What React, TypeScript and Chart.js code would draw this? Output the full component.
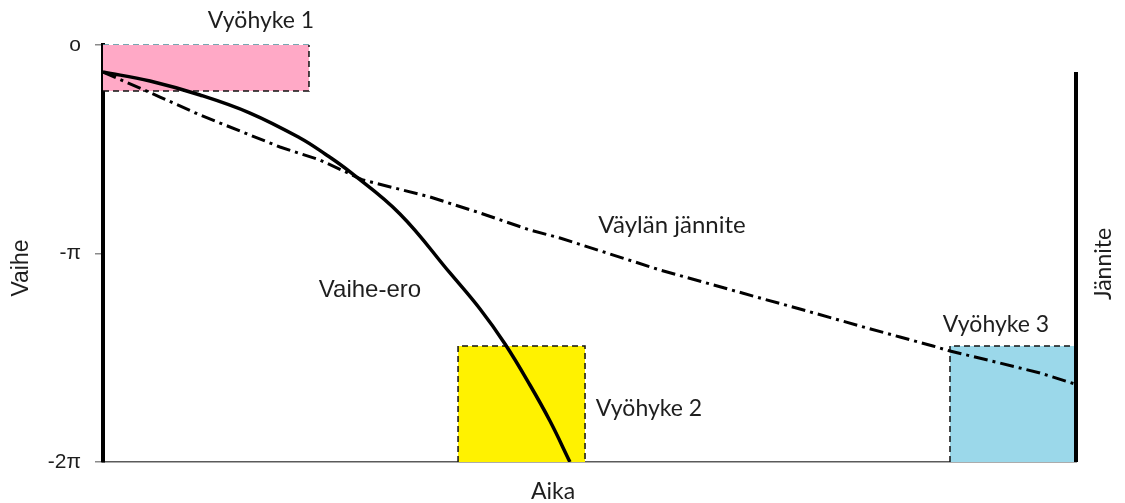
import { useEffect, useRef } from "react";
import { Chart, registerables } from "chart.js";

Chart.register(...registerables);

const TWO_PI = 2 * Math.PI;

// Phase axis: 0 at the top, -2π at the bottom
const phaseTickValues = [0, -Math.PI, -TWO_PI];
const phaseTickLabels = ["o", "-π", "-2π"];

// Time axis in arbitrary units
const timeMin = 0;
const timeMax = 100;

// Vaihe-ero: phase difference between the two systems
const phaseDiffTime = [0, 4.83, 9.97, 15.11, 20.25, 22.82, 25.39, 30.52, 35.66, 38.75, 41.32, 43.88, 45.94, 47.99];
const phaseDiffValue = [-0.407, -0.542, -0.753, -1.025, -1.401, -1.642, -1.913, -2.546, -3.435, -3.978, -4.505, -5.123, -5.666, -6.283];

// Väylän jännite: bus voltage
const busTime = [0, 5.86, 9.97, 18.19, 22.3, 26.72, 33.61, 38.75, 43.89, 46.97, 57.25, 67.52, 71.63, 78.52, 81.91, 85.3, 87.05, 92.19, 96.3, 99.9];
const busValue = [-0.407, -0.784, -1.055, -1.537, -1.733, -2.034, -2.29, -2.531, -2.788, -2.908, -3.39, -3.812, -3.978, -4.264, -4.4, -4.535, -4.611, -4.792, -4.942, -5.108];

// Jännite axis line on the right
const voltageAxisTime = [100, 100];
const voltageAxisValue = [-0.407, -TWO_PI];

// Zones: time span and phase span
const zone1Time = [0, 21.17];
const zone1Phase = [0, -0.693];
const zone2Time = [36.49, 49.54];
const zone2Phase = [-4.535, -TWO_PI];
const zone3Time = [87.05, 100];
const zone3Phase = [-4.535, -TWO_PI];

const TEXT_COLOR = "#1e1e1e";
const CAL = "Lato, 'Open Sans', sans-serif";
const ARI = "'Liberation Sans', Arial, sans-serif";

type Note = { text: string; x: number; y: number; font: string; rot?: number };
const notes: Note[] = [
  { text: "Vyöhyke 1", x: 261, y: 21, font: `23px ${CAL}` },
  { text: "Väylän jännite", x: 672, y: 225, font: `24px ${CAL}` },
  { text: "Vaihe-ero", x: 370, y: 290, font: `24px ${ARI}` },
  { text: "Vyöhyke 2", x: 649, y: 409, font: `23px ${CAL}` },
  { text: "Vyöhyke 3", x: 996, y: 325, font: `23px ${CAL}` },
  { text: "Aika", x: 553, y: 492, font: `23px ${CAL}` },
  { text: "Vaihe", x: 22, y: 268, font: `23px ${ARI}`, rot: -Math.PI / 2 },
  { text: "Jännite", x: 1104, y: 264, font: `23px ${CAL}`, rot: -Math.PI / 2 },
];

const notesPlugin = {
  id: "notes",
  afterDraw(chart: any) {
    const ctx = chart.ctx as CanvasRenderingContext2D;
    for (const n of notes) {
      ctx.save();
      ctx.translate(n.x, n.y);
      if (n.rot) ctx.rotate(n.rot);
      ctx.font = n.font;
      ctx.fillStyle = TEXT_COLOR;
      ctx.textAlign = "center";
      ctx.textBaseline = "middle";
      ctx.fillText(n.text, 0, 0);
      ctx.restore();
    }
  },
};

const pts = (xs: number[], ys: number[]) => xs.map((x, i) => ({ x, y: ys[i] }));

export default function App() {
  const canvasRef = useRef<HTMLCanvasElement | null>(null);

  useEffect(() => {
    const canvas = canvasRef.current;
    if (!canvas) return;

    const zoneBorder = { borderColor: "#111", borderWidth: 1.5, borderDash: [6, 4], pointRadius: 0, clip: 4, order: 5 };

    const chart = new Chart(canvas, {
      type: "line",
      data: {
        datasets: [
          {
            label: "Vaihe-ero",
            data: pts(phaseDiffTime, phaseDiffValue),
            borderColor: "#000",
            borderWidth: 3.5,
            pointRadius: 0,
            tension: 0.4,
            fill: false,
            order: 1,
          },
          {
            label: "Väylän jännite",
            data: pts(busTime, busValue),
            borderColor: "#000",
            borderWidth: 3,
            borderDash: [14, 5, 3, 5],
            pointRadius: 0,
            fill: false,
            order: 2,
          },
          {
            label: "Jännite",
            data: pts(voltageAxisTime, voltageAxisValue),
            borderColor: "#000",
            borderWidth: 4,
            pointRadius: 0,
            fill: false,
            clip: 4,
            order: 0,
          },
          {
            label: "Vyöhyke 1",
            data: [
              { x: zone1Time[0], y: zone1Phase[1] },
              { x: zone1Time[1], y: zone1Phase[1] },
              { x: zone1Time[1], y: zone1Phase[0] },
            ],
            backgroundColor: "#ffa9c6",
            fill: { value: zone1Phase[0] },
            ...zoneBorder,
          },
          {
            label: "Vyöhyke 1 yläreuna",
            data: [
              { x: zone1Time[0], y: zone1Phase[0] },
              { x: zone1Time[1], y: zone1Phase[0] },
            ],
            fill: false,
            ...zoneBorder,
            borderColor: "#4a8c99",
          },
          {
            label: "Vyöhyke 2",
            data: [
              { x: zone2Time[0], y: zone2Phase[1] },
              { x: zone2Time[0], y: zone2Phase[0] },
              { x: zone2Time[1], y: zone2Phase[0] },
              { x: zone2Time[1], y: zone2Phase[1] },
            ],
            backgroundColor: "#fff200",
            fill: { value: zone2Phase[1] },
            ...zoneBorder,
          },
          {
            label: "Vyöhyke 3",
            data: [
              { x: zone3Time[0], y: zone3Phase[1] },
              { x: zone3Time[0], y: zone3Phase[0] },
              { x: zone3Time[1], y: zone3Phase[0] },
            ],
            backgroundColor: "#9bd8ea",
            fill: { value: zone3Phase[1] },
            ...zoneBorder,
          },
        ],
      },
      options: {
        animation: false,
        responsive: true,
        maintainAspectRatio: false,
        events: [],
        layout: { padding: { left: 0, top: 45, right: 49, bottom: 0 } },
        plugins: { legend: { display: false }, tooltip: { enabled: false } },
        scales: {
          x: {
            type: "linear",
            min: timeMin,
            max: timeMax,
            z: 1,
            ticks: { display: false },
            grid: { drawOnChartArea: false, drawTicks: false },
            border: { color: "#5a5a5a", width: 1.5 },
            afterFit(scale: any) {
              scale.height = 41;
            },
          },
          y: {
            type: "linear",
            min: -TWO_PI,
            max: 0,
            z: 1,
            afterBuildTicks(scale: any) {
              scale.ticks = phaseTickValues.map((v) => ({ value: v }));
            },
            ticks: {
              autoSkip: false,
              padding: 14,
              color: TEXT_COLOR,
              font: { family: ARI, size: 21 },
              callback(value: any) {
                const i = phaseTickValues.findIndex((v) => Math.abs(v - Number(value)) < 1e-6);
                return i >= 0 ? phaseTickLabels[i] : "";
              },
            },
            grid: { drawOnChartArea: false, tickLength: 8, color: "#8a8a8a", lineWidth: 1.5 },
            border: { color: "#000", width: 4 },
            afterFit(scale: any) {
              scale.width = 103;
            },
          },
        },
      },
      plugins: [notesPlugin],
    } as any);

    if ((document as any).fonts?.load) {
      Promise.all([
        (document as any).fonts.load(`23px Lato`),
        (document as any).fonts.load(`22px 'Liberation Sans'`),
      ])
        .then(() => chart.update())
        .catch(() => {});
    }

    return () => chart.destroy();
  }, []);

  return (
    <div style={{ position: "fixed", left: 0, top: 0, width: 1125, height: 503, background: "#fff" }}>
      <canvas ref={canvasRef} />
    </div>
  );
}
